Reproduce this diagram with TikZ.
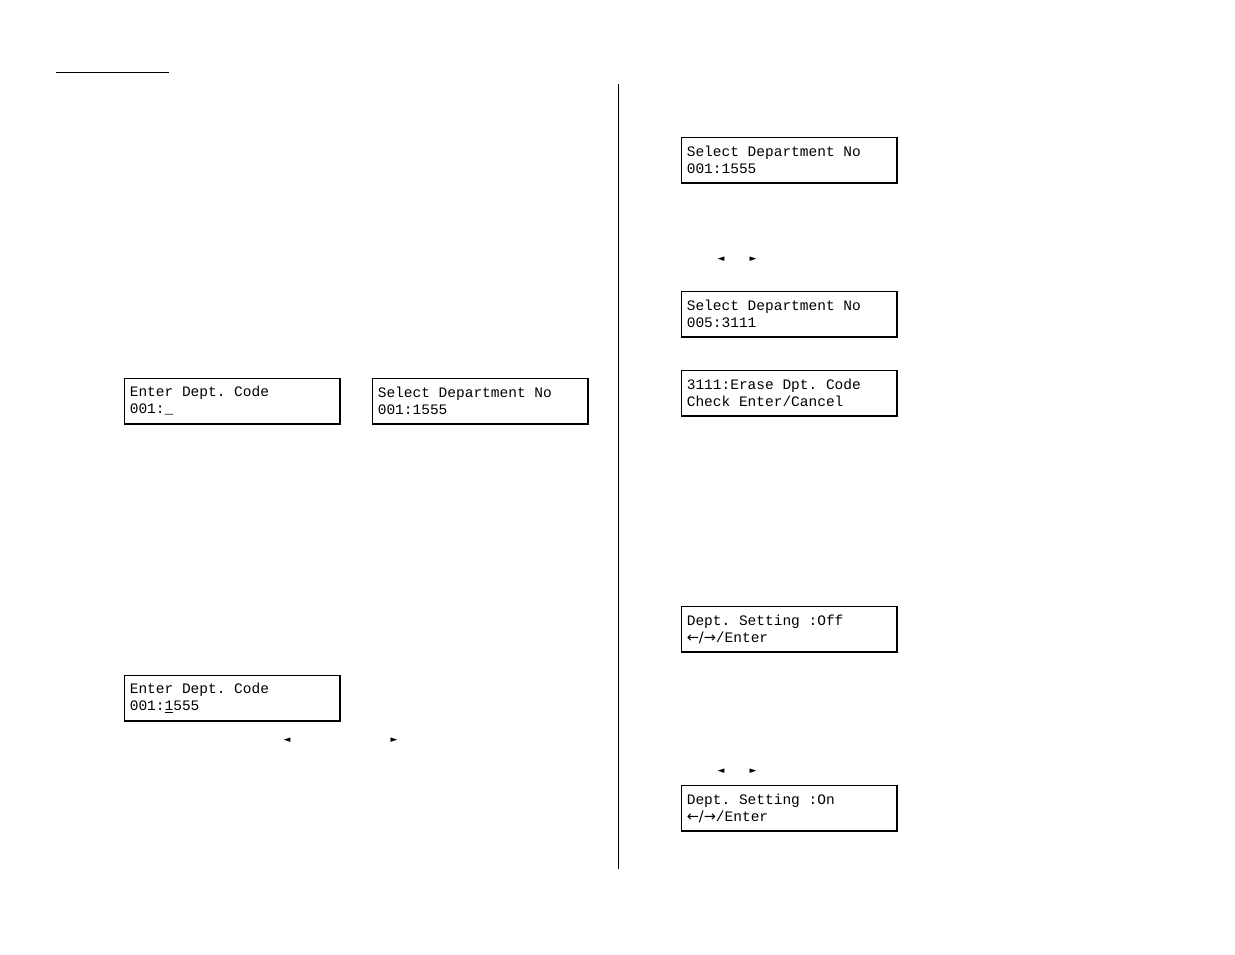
\documentclass[tikz,border=0pt]{standalone}
\usepackage{fontspec}
\setmonofont{Liberation Mono}
\newfontfamily\arrowfont{DejaVu Sans}
\usetikzlibrary{positioning}
\tikzset{
  % For the display panels.
  lcd/.style={
    draw,
    line width=0.8pt,
    minimum width=216pt,
    minimum height=45pt,
    inner sep=0pt},
%
  % For the two text lines inside a panel.
  lcdtext/.style={
    anchor=west,
    align=left,
    inner sep=0pt,
    font=\fontsize{14.5}{17}\ttfamily},
%
  % For the small key marks.
  keymark/.style={
    inner sep=0pt,
    font=\fontsize{9}{9}\arrowfont}
}
\newcommand{\lcdpanel}[3]{%
  \node[lcd] (#1) at #2 {};
  \draw[line width=2pt] (#1.north east) -- (#1.south east) -- (#1.south west);
  \node[lcdtext] (#1 text) at ([xshift=6pt]#1.west) {#3};}
\begin{document}
\begin{tikzpicture}[x=1pt,y=-1pt]
  \useasboundingbox (0,0) rectangle (1235,954);

  \draw[line width=0.8pt] (56,72) -- (169,72);
  \draw[line width=0.8pt] (618,84) -- (618,869);

  \lcdpanel{enter code}{(232,401)}{Enter Dept. Code\\001:\_}
  \lcdpanel{select first}{(480,401)}{Select Department No\\001:1555}
  \lcdpanel{edit code}{(232,698)}{Enter Dept. Code\\001:\underline{1}555}

  \lcdpanel{select top}{(789,160)}{Select Department No\\001:1555}
  \lcdpanel{select next}{(789,314)}{Select Department No\\005:3111}
  \lcdpanel{erase check}{(789,393)}{3111:Erase Dpt. Code\\Check  Enter/Cancel}
  \lcdpanel{setting off}{(789,629)}{Dept. Setting   :Off\\      {\arrowfont←/→}/Enter}
  \lcdpanel{setting on}{(789,808)}{Dept. Setting   :On\\      {\arrowfont←/→}/Enter}

  \node[keymark] (left a) at (287,740) {◄};
  \node[keymark] (right a) at (394,740) {►};
  \node[keymark] (left b) at (721,259) {◄};
  \node[keymark] (right b) at (753,259) {►};
  \node[keymark] (left c) at (721,771) {◄};
  \node[keymark] (right c) at (753,771) {►};
\end{tikzpicture}
\end{document}
